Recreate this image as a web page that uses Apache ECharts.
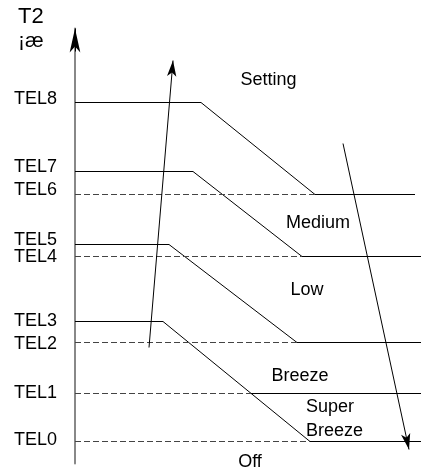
<!DOCTYPE html>
<html><head><meta charset="utf-8">
<script src="https://cdn.jsdelivr.net/npm/echarts@6/dist/echarts.min.js"></script>
<style>html,body{margin:0;padding:0;background:#fff}#c{width:422px;height:472px}</style>
</head><body><div id="c"></div>
<script>
// Diagram units: x from the T2 axis, y upward from the bottom of the axis
var telNames = ['TEL0','TEL1','TEL2','TEL3','TEL4','TEL5','TEL6','TEL7','TEL8'];
var telLabelY = [23.5, 70, 119.5, 142, 206, 223, 273, 296, 364.5];
// Stepped threshold curves (solid)
var curveTEL8 = [[0,361],[126,361],[240,269],[340,269]];
var curveTEL7 = [[0,292],[118,292],[227,207],[346,207]];
var curveTEL5 = [[0,219],[94,219],[222,121],[346,121]];
var curveTEL3 = [[0,142],[88,142],[235,22],[346,22]];
var tel1Solid = [[176,70],[346,70]];
// Dashed reference levels
var dashTEL6 = [[0,269],[240,269]];
var dashTEL4 = [[0,207],[227,207]];
var dashTEL2 = [[0,121],[222,121]];
var dashTEL1 = [[0,70],[176,70]];
var dashTEL0 = [[0,22],[235,22]];
// Rising and falling arrows, and the axis arrowhead
var arrowUp = [[74,116],[98,403]];
var arrowDown = [[268,320],[334,14]];
var axisHead = [[0,412],[0,435]];

var FONT = '"Liberation Sans", Arial, sans-serif';
function solid(d){return {type:'line',data:d,symbol:'none',silent:true,animation:false,
  lineStyle:{color:'#000',width:1}};}
function dashed(d){return {type:'line',data:d,symbol:'none',silent:true,animation:false,
  lineStyle:{color:'#444',width:1,type:[6,3]}};}
function arrow(d,size,w){return {type:'line',data:[],symbol:'none',animation:false,clip:false,
  markLine:{silent:true,symbol:['none','arrow'],symbolSize:size,animation:false,
    lineStyle:{color:'#000',width:w,type:'solid'},label:{show:false},
    data:[[{coord:d[0]},{coord:d[1]}]]}};}
function txt(s,x,y,al){return {type:'text',x:x,y:y,style:{text:s,font:'18px '+FONT,fill:'#000',
  align:al||'center',verticalAlign:'middle'}};}

var chart = echarts.init(document.getElementById('c'));
chart.setOption({
  animation:false,
  grid:{left:75,right:1,top:28.5,bottom:8.5,containLabel:false},
  xAxis:{type:'value',min:0,max:346,show:false},
  yAxis:{type:'value',min:0,max:435,splitLine:{show:false},
    axisLine:{show:true,symbol:'none',lineStyle:{color:'#888',width:2}},
    axisTick:{show:false},
    axisLabel:{show:true,customValues:telLabelY,margin:18,color:'#000',fontSize:18,fontFamily:FONT,
      formatter:function(v,i){var k=telLabelY.indexOf(v);return telNames[k>=0?k:i];}}},
  series:[
    solid(curveTEL8),solid(curveTEL7),solid(curveTEL5),solid(curveTEL3),solid(tel1Solid),
    dashed(dashTEL6),dashed(dashTEL4),dashed(dashTEL2),dashed(dashTEL1),dashed(dashTEL0),
    arrow(arrowUp,[7,16],1),arrow(arrowDown,[7,16],1),arrow(axisHead,[8,24],1)
  ],
  graphic:[
    {type:'text',left:18,top:6,style:{text:'T2',font:'22px '+FONT,fill:'#000'}},
    {type:'text',left:18,top:31,style:{text:'¡æ',font:'21px '+FONT,fill:'#000'}},
    txt('Setting',268.5,80),
    txt('Medium',318,223),
    txt('Low',307,290),
    txt('Breeze',300,376),
    txt('Super',306,407,'left'),
    txt('Breeze',306,431,'left'),
    txt('Off',250,462)
  ]
});
</script></body></html>
